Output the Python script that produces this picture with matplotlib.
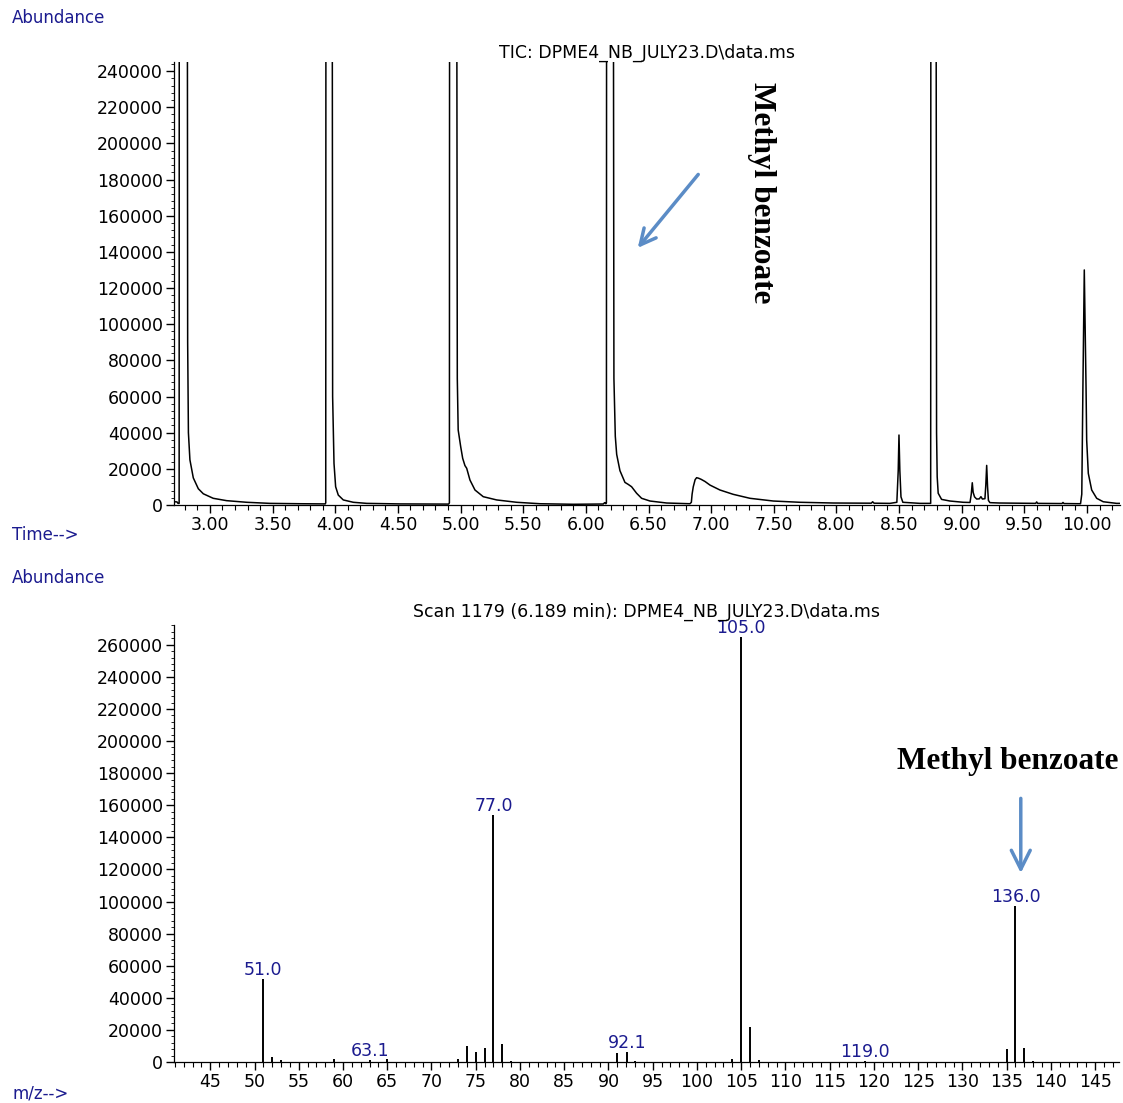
import matplotlib
matplotlib.use("Agg")
import matplotlib.pyplot as plt
from matplotlib.ticker import MultipleLocator

# ---- Total ion chromatogram (retention time in min, abundance) ----
tic_time = [
    2.717, 2.737, 2.745, 2.754, 2.756, 2.816, 2.822, 2.828, 2.840, 2.867,
    2.907, 2.947, 3.026, 3.133, 3.293, 3.479, 3.718, 3.920, 3.924, 3.927,
    3.972, 3.979, 3.990, 4.003, 4.024, 4.064, 4.144, 4.251, 4.516, 4.905,
    4.911, 4.914, 4.964, 4.974, 4.981, 5.001, 5.017, 5.035, 5.049, 5.075,
    5.115, 5.181, 5.288, 5.448, 5.634, 5.899, 6.139, 6.150, 6.160, 6.164,
    6.167, 6.214, 6.224, 6.235, 6.246, 6.272, 6.312, 6.338, 6.365, 6.405,
    6.445, 6.512, 6.645, 6.831, 6.842, 6.848, 6.857, 6.872, 6.884, 6.900,
    6.920, 6.951, 6.991, 7.070, 7.176, 7.310, 7.496, 7.709, 7.975, 8.241,
    8.278, 8.289, 8.300, 8.427, 8.482, 8.493, 8.499, 8.506, 8.515, 8.530,
    8.667, 8.752, 8.755, 8.791, 8.799, 8.804, 8.812, 8.839, 8.906, 9.012,
    9.066, 9.076, 9.084, 9.091, 9.102, 9.119, 9.140, 9.153, 9.165, 9.185,
    9.192, 9.199, 9.206, 9.213, 9.225, 9.300, 9.590, 9.598, 9.606, 9.800,
    9.808, 9.816, 9.948, 9.958, 9.967, 9.978, 9.992, 9.997, 10.010, 10.037,
    10.077, 10.129, 10.236, 10.263,
]
tic_abundance = [
    1800, 1700, 900, 900, 600000, 600000, 90000, 40000, 25000, 15000,
    9000, 6200, 3700, 2400, 1500, 900, 700, 600, 1200, 600000,
    600000, 60000, 23000, 10100, 5500, 2800, 1500, 900, 600, 500,
    1200, 600000, 600000, 70000, 41500, 32300, 25800, 21800, 20300, 13800,
    8300, 4600, 2800, 1500, 700, 400, 550, 1300, 700, 1200,
    600000, 600000, 70000, 38000, 28000, 19000, 12500, 11400, 10100, 6500,
    3700, 2200, 1100, 700, 1500, 6000, 10000, 14000, 15100, 14800,
    14200, 13000, 11000, 8300, 5900, 3700, 2200, 1500, 1100, 1000,
    1000, 1800, 1000, 900, 1500, 19000, 38700, 19000, 4500, 1500,
    900, 900, 600000, 600000, 40000, 15600, 6500, 3100, 2200, 1500,
    1400, 6000, 12300, 7000, 4500, 3300, 3400, 4600, 3300, 3500,
    11000, 21900, 10000, 2500, 1300, 1100, 900, 1700, 900, 800,
    1400, 800, 700, 6000, 65000, 130000, 65000, 36000, 17500, 8300,
    3700, 1800, 900, 900,
]

# ---- Mass spectrum of scan 1179 ----
ms_mz = [51.0, 52, 53, 59, 63.1, 65, 73, 74, 75, 76, 77.0, 78, 79,
         91, 92.1, 93, 104, 105.0, 106, 107, 119.0, 135, 136.0, 137, 138]
ms_abundance = [51700, 2900, 1250, 1700, 1250, 1700, 1900, 10200, 6200, 8700,
                153900, 11200, 600, 5400, 6000, 600, 1700, 264800, 21800, 1250,
                800, 8100, 97200, 8900, 600]
ms_labelled = [51.0, 63.1, 77.0, 92.1, 105.0, 119.0, 136.0]

tic_title = "TIC: DPME4_NB_JULY23.D\\data.ms"
ms_title = "Scan 1179 (6.189 min): DPME4_NB_JULY23.D\\data.ms"
compound = "Methyl benzoate"

NAVY = "#1b1b8f"
ARROW = "#5b8cc6"
W, H = 1123, 1103

plt.rcParams["font.family"] = ["DejaVu Sans"]
fig = plt.figure(figsize=(W / 100, H / 100), dpi=100)


def px_axes(left, top, right, bottom):
    return fig.add_axes([left / W, 1 - bottom / H, (right - left) / W, (bottom - top) / H])


def style(ax, xmaj, xmin, ymax):
    for s in ("top", "right"):
        ax.spines[s].set_visible(False)
    for s in ("left", "bottom"):
        ax.spines[s].set_linewidth(0.9)
    ax.xaxis.set_major_locator(MultipleLocator(xmaj))
    ax.xaxis.set_minor_locator(MultipleLocator(xmin))
    ax.yaxis.set_major_locator(MultipleLocator(20000))
    ax.yaxis.set_minor_locator(MultipleLocator(4000))
    ax.tick_params(which="major", length=6, width=1, labelsize=12.5, pad=2)
    ax.tick_params(axis="x", which="minor", length=3.5, width=0.8)
    ax.tick_params(axis="y", which="minor", length=2, width=0.6)
    ax.set_ylim(0, ymax)


# ---- chromatogram ----
ax1 = px_axes(174, 62, 1120, 505)
ax1.plot(tic_time, tic_abundance, color="black", lw=1.1)
ax1.set_xlim(2.713, 10.263)
style(ax1, 0.5, 0.1, 245000)
ax1.set_xticks([3.0 + 0.5 * i for i in range(15)])
ax1.xaxis.set_major_formatter(lambda v, p: f"{v:.2f}")
ax1.set_title(tic_title, fontsize=12.5, pad=2)

ax1.text(7.405, 173000, compound, rotation=-90, ha="center", va="center",
         family="Liberation Serif", weight="bold", fontsize=22.5)
ax1.annotate("", xy=(6.40, 141000), xytext=(6.911, 184000),
             arrowprops=dict(arrowstyle="->", color=ARROW, lw=2.5, mutation_scale=28))

# ---- mass spectrum ----
ax2 = px_axes(174, 625, 1119, 1062)
ax2.vlines(ms_mz, 0, ms_abundance, color="black", lw=1.4)
ax2.set_xlim(40.9, 147.7)
style(ax2, 5, 1, 272300)
ax2.set_xticks(list(range(45, 146, 5)))
ax2.set_title(ms_title, fontsize=12.5, pad=6)
for mz, ab in zip(ms_mz, ms_abundance):
    if mz in ms_labelled:
        ax2.annotate(f"{mz:.1f}", xy=(mz, ab), xytext=(0, 3), textcoords="offset points",
                     ha="center", va="baseline", color=NAVY, fontsize=12.5)

ax2.text(135.1, 187000, compound, ha="center", va="center",
         family="Liberation Serif", weight="bold", fontsize=22.5)
ax2.annotate("", xy=(136.6, 116000), xytext=(136.6, 166000),
             arrowprops=dict(arrowstyle="->", color=ARROW, lw=2.5, mutation_scale=34))

# ---- axis captions ----
fig.text(12 / W, 1 - 18 / H, "Abundance", color=NAVY, fontsize=12, va="center")
fig.text(12 / W, 1 - 535 / H, "Time-->", color=NAVY, fontsize=12, va="center")
fig.text(12 / W, 1 - 578 / H, "Abundance", color=NAVY, fontsize=12, va="center")
fig.text(12 / W, 1 - 1094 / H, "m/z-->", color=NAVY, fontsize=12, va="center")

fig.savefig("out.png", dpi=100)
